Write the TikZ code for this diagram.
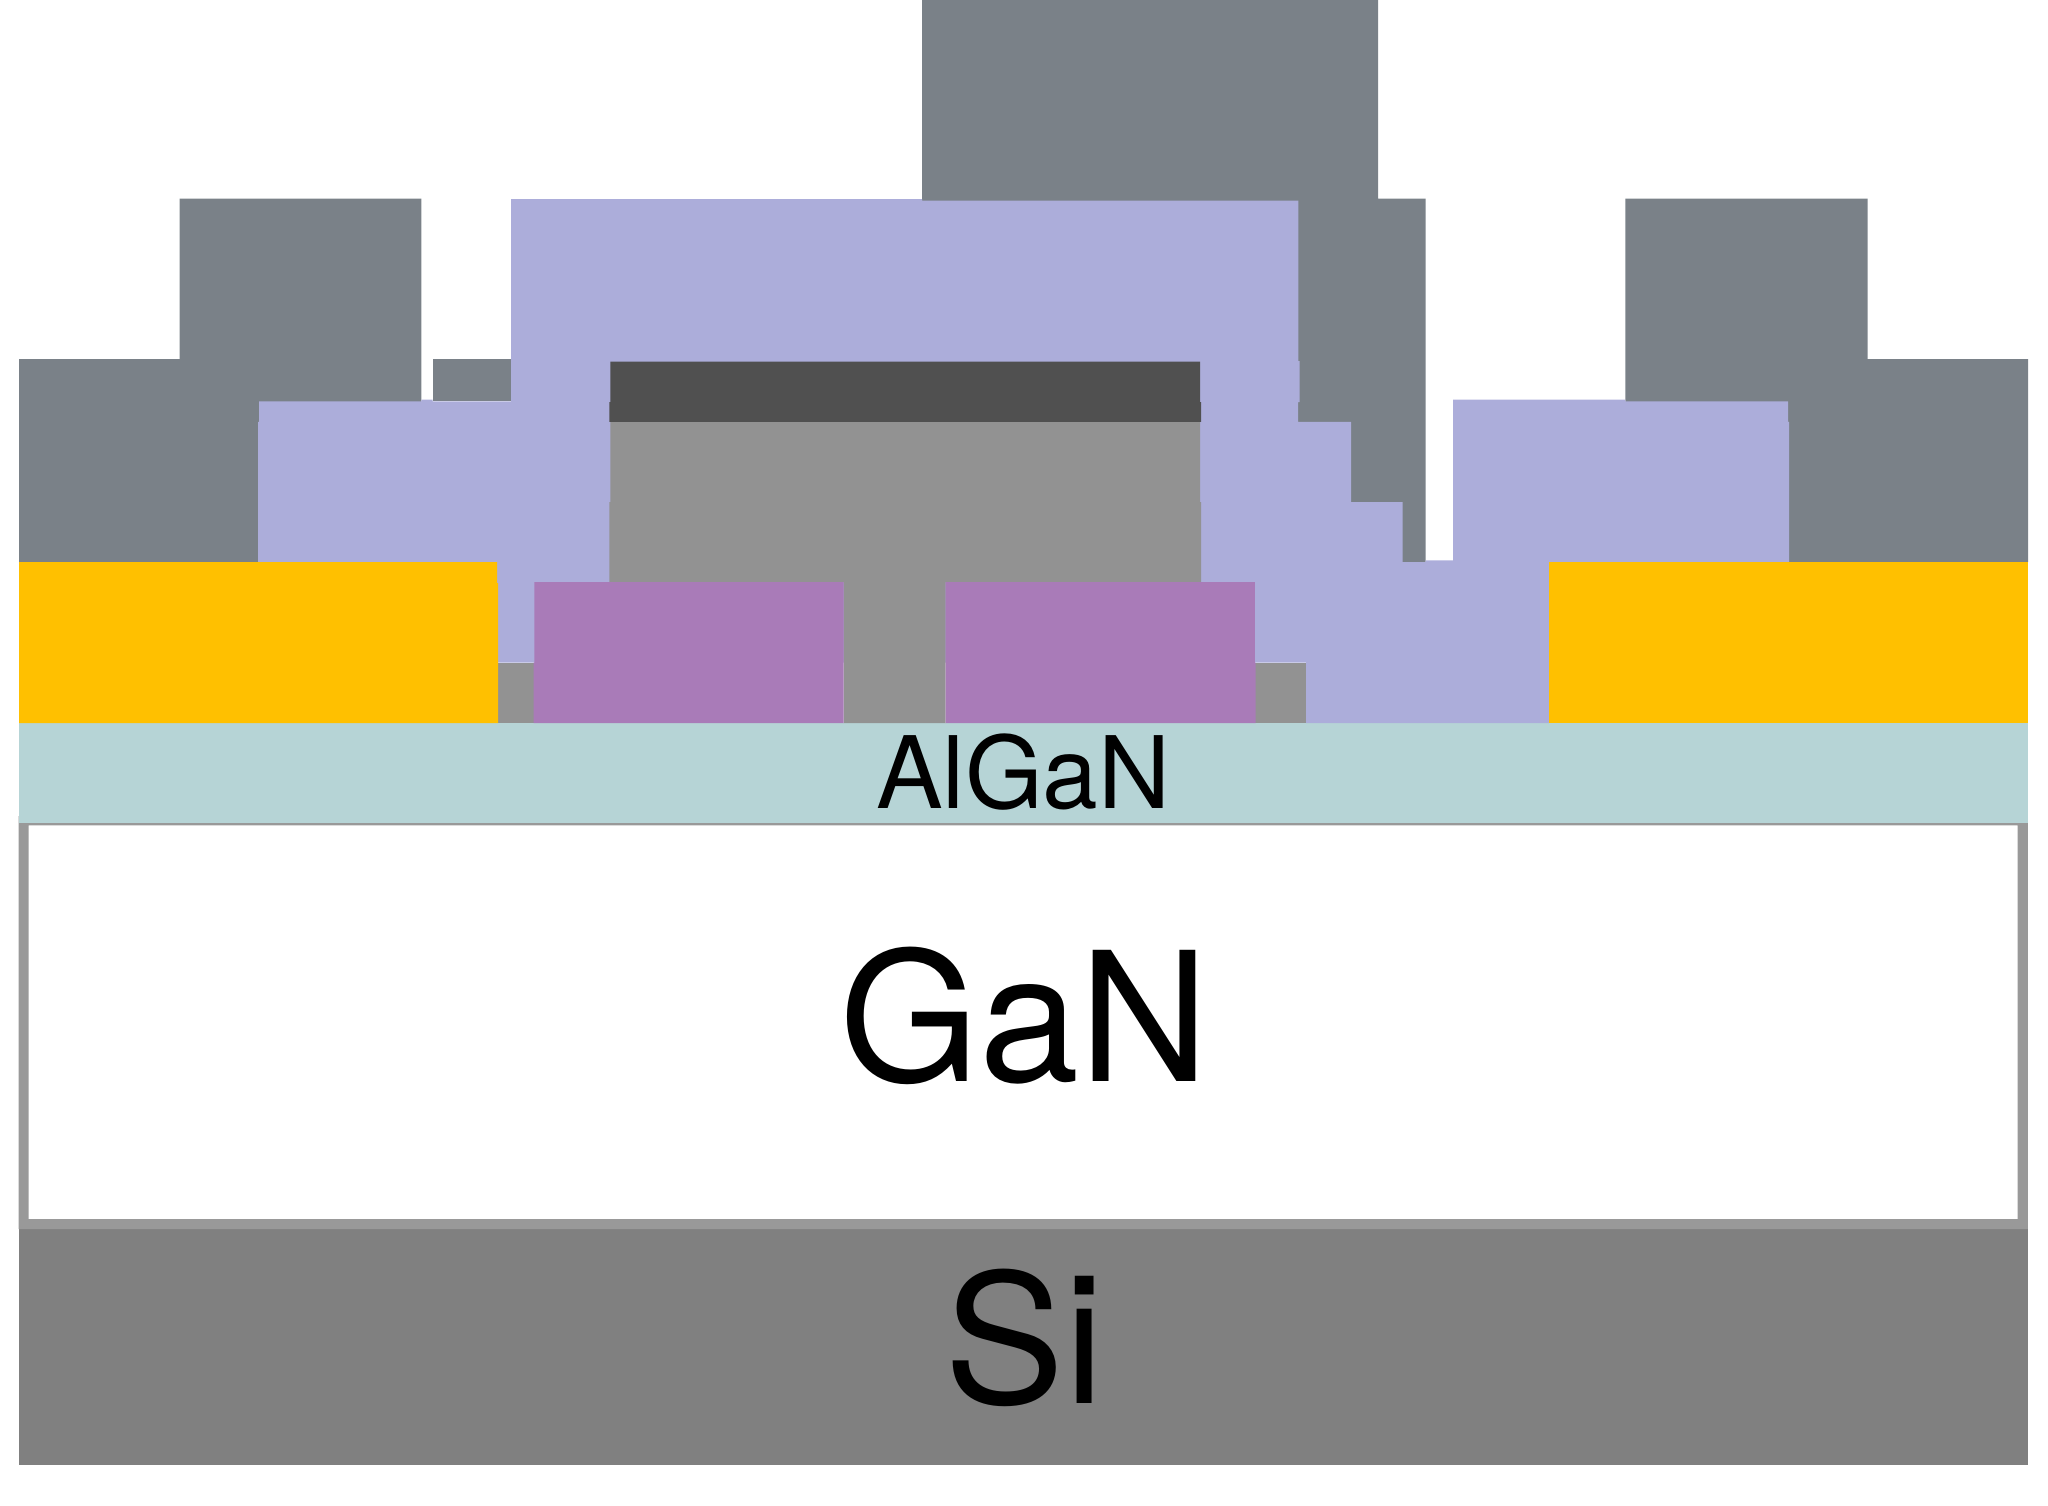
\documentclass[tikz,border=0pt]{standalone}
\usepackage{fontspec}
\setmainfont{TeX Gyre Heros}
\definecolor{metal}{HTML}{7A8188}
\definecolor{oxide}{HTML}{ACADDA}
\definecolor{ohmic}{HTML}{FFC000}
\definecolor{magentalayer}{HTML}{A97BB8}
\definecolor{gategray}{HTML}{929292}
\definecolor{darkcap}{HTML}{505050}
\definecolor{barrier}{HTML}{B6D4D6}
\definecolor{silicon}{HTML}{808080}
\definecolor{frameline}{HTML}{999999}
\tikzset{
  metalfill/.style={fill=metal,draw=none},
  oxidefill/.style={fill=oxide,draw=none},
  ohmicfill/.style={fill=ohmic,draw=none},
  magentafill/.style={fill=magentalayer,draw=none},
  gatefill/.style={fill=gategray,draw=none},
  layerlabel/.style={inner sep=0pt,outer sep=0pt,anchor=base,text=black}
}
\begin{document}
\begin{tikzpicture}[x=1pt,y=-1pt]
\useasboundingbox (0,0) rectangle (2048,1505);
% Si substrate
\fill[silicon] (19,1228.5) rectangle (2028,1465);
% GaN frame
\fill[frameline,even odd rule] (18.5,816) rectangle (2027.8,1229) (28.7,825.3) rectangle (2017.5,1219);
% AlGaN
\fill[barrier] (19,723) rectangle (2028,823);
% metal
\path[metalfill] (922,0) -- (1378,0) -- (1378,198.6) -- (1425.5,198.6) -- (1425.5,562) -- (1290,562) -- (1290,205) -- (922,205) -- cycle;
\path[metalfill] (19,359) -- (179.5,359) -- (179.5,198.6) -- (421.4,198.6) -- (421.4,405) -- (300,405) -- (300,562) -- (19,562) -- cycle;
\path[metalfill] (432.6,359) -- (511,359) -- (511,401.4) -- (432.6,401.4) -- cycle;
\path[metalfill] (1625.4,198.6) -- (1867.6,198.6) -- (1867.6,359) -- (2028,359) -- (2028,562) -- (1750,562) -- (1750,405) -- (1625.4,405) -- cycle;
% oxide
\path[oxidefill] (258,562) -- (258,421.8) -- (259,421.8) -- (259,401.4) -- (421.4,401.4) -- (421.4,399.6) -- (432.6,399.6) -- (432.6,401.4) -- (511,401.4) -- (511,199) -- (922,199) -- (922,200.5) -- (1298.3,200.5) -- (1298.3,361) -- (1299.5,361) -- (1299.5,402) -- (1298,402) -- (1298,421.8) -- (1351,421.8) -- (1351,502) -- (1402.6,502) -- (1402.6,562) -- (1425.5,562) -- (1425.5,560.4) -- (1453,560.4) -- (1453,399.6) -- (1625.4,399.6) -- (1625.4,401.4) -- (1788,401.4) -- (1788,421.8) -- (1789,421.8) -- (1789,562) -- (1549,562) -- (1549,723) -- (1306,723) -- (1306,662.5) -- (498,662.5) -- cycle;
% gate stack
\path[gatefill] (610.3,421.8) -- (1200,421.8) -- (1200,502) -- (1201,502) -- (1201,582) -- (945.6,582) -- (945.6,723) -- (843.7,723) -- (843.7,582) -- (609.4,582) -- (609.4,502) -- (610.3,502) -- cycle;
\fill[darkcap] (610.3,361.5) -- (1200,361.5) -- (1200,402) -- (1201,402) -- (1201,421.8) -- (609.4,421.8) -- (609.4,402) -- (610.3,402) -- cycle;
\path[gatefill] (498,662.5) rectangle (535,723);
\path[gatefill] (1254,662.5) rectangle (1306,723);
% magenta blocks
\path[magentafill] (534.4,582) -- (843.7,582) -- (843.7,723) -- (533.5,723) -- (533.5,662.5) -- (534.4,662.5) -- cycle;
\path[magentafill] (945.6,582) -- (1254.8,582) -- (1254.8,662.5) -- (1255.5,662.5) -- (1255.5,723) -- (945.6,723) -- cycle;
% ohmic
\path[ohmicfill] (19,562) -- (497,562) -- (497,583) -- (498,583) -- (498,723) -- (19,723) -- cycle;
\path[ohmicfill] (1549,562) rectangle (2028,723);
% labels
\node[layerlabel,font=\fontsize{100}{120}\selectfont] (algan) at (1023.5,808.5) {AlGaN};
\node[layerlabel,font=\fontsize{180}{200}\selectfont] (gan) at (1024.5,1081) {GaN};
\node[layerlabel,font=\fontsize{180}{200}\selectfont] (si) at (1024,1403) {Si};
\end{tikzpicture}
\end{document}
